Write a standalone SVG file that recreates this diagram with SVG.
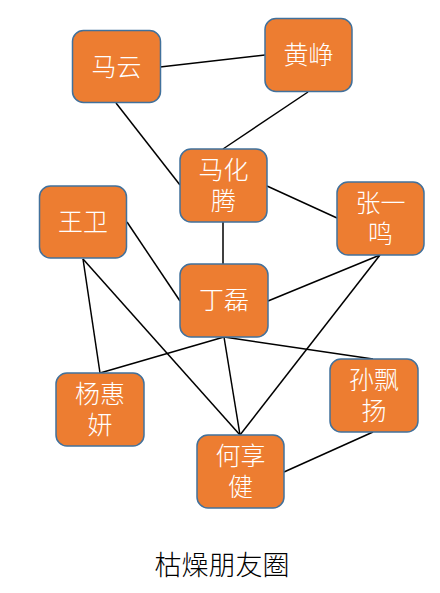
<svg xmlns="http://www.w3.org/2000/svg" width="440" height="593" viewBox="0 0 440 593">
<style>
.box{fill:#ED7D31;stroke:#41719C;stroke-width:1.5}
.t{fill:#FFFFFF;font-family:"Noto Sans CJK SC","Noto Sans CJK JP",sans-serif;font-size:25px;font-weight:300;text-anchor:middle}
.c{stroke:#000000;stroke-width:1.5;fill:none}
.title{fill:#000000;font-family:"Noto Sans CJK SC","Noto Sans CJK JP",sans-serif;font-size:27px;font-weight:300;text-anchor:middle}
</style>
<rect width="440" height="593" fill="#FFFFFF"/>
<g id="connectors">
<line class="c" x1="160" y1="67" x2="265" y2="55"/>
<line class="c" x1="116" y1="103" x2="180" y2="185"/>
<line class="c" x1="308" y1="92" x2="223" y2="149"/>
<line class="c" x1="267" y1="186" x2="337" y2="218"/>
<line class="c" x1="223" y1="222" x2="223" y2="264"/>
<line class="c" x1="127" y1="222" x2="180" y2="301"/>
<line class="c" x1="380" y1="255" x2="268" y2="301"/>
<line class="c" x1="380" y1="255" x2="240" y2="435"/>
<line class="c" x1="83" y1="259" x2="100" y2="373"/>
<line class="c" x1="83" y1="259" x2="240" y2="435"/>
<line class="c" x1="224" y1="337" x2="100" y2="373"/>
<line class="c" x1="224" y1="337" x2="240" y2="435"/>
<line class="c" x1="224" y1="337" x2="373" y2="359"/>
<line class="c" x1="373" y1="432" x2="284" y2="472"/>
</g>
<g id="mayun">
<rect class="box" x="72.5" y="30.5" width="88" height="72" rx="11"/>
<text class="t" x="116.5" y="76">马云</text>
</g>
<g id="huangzheng">
<rect class="box" x="265" y="18.5" width="87" height="73" rx="11"/>
<text class="t" x="308.5" y="64">黄峥</text>
</g>
<g id="mahuateng">
<rect class="box" x="180" y="149" width="87" height="73" rx="11"/>
<text class="t" x="223.5" y="179">马化<tspan x="223.5" dy="31">腾</tspan></text>
</g>
<g id="wangwei">
<rect class="box" x="39.5" y="186" width="87" height="72" rx="11"/>
<text class="t" x="83" y="231">王卫</text>
</g>
<g id="zhangyiming">
<rect class="box" x="337" y="182" width="87" height="73" rx="11"/>
<text class="t" x="380.5" y="212">张一<tspan x="380.5" dy="31">鸣</tspan></text>
</g>
<g id="dinglei">
<rect class="box" x="180" y="264" width="88" height="73" rx="11"/>
<text class="t" x="224" y="309">丁磊</text>
</g>
<g id="yanghuiyan">
<rect class="box" x="56" y="373" width="88" height="73" rx="11"/>
<text class="t" x="100" y="403">杨惠<tspan x="100" dy="31">妍</tspan></text>
</g>
<g id="sunpiaoyang">
<rect class="box" x="330" y="359" width="88" height="73" rx="11"/>
<text class="t" x="374" y="389">孙飘<tspan x="374" dy="31">扬</tspan></text>
</g>
<g id="hexiangjian">
<rect class="box" x="197" y="435" width="87" height="73" rx="11"/>
<text class="t" x="240.5" y="465">何享<tspan x="240.5" dy="31">健</tspan></text>
</g>
<text class="title" x="222" y="575">枯燥朋友圈</text>
</svg>
